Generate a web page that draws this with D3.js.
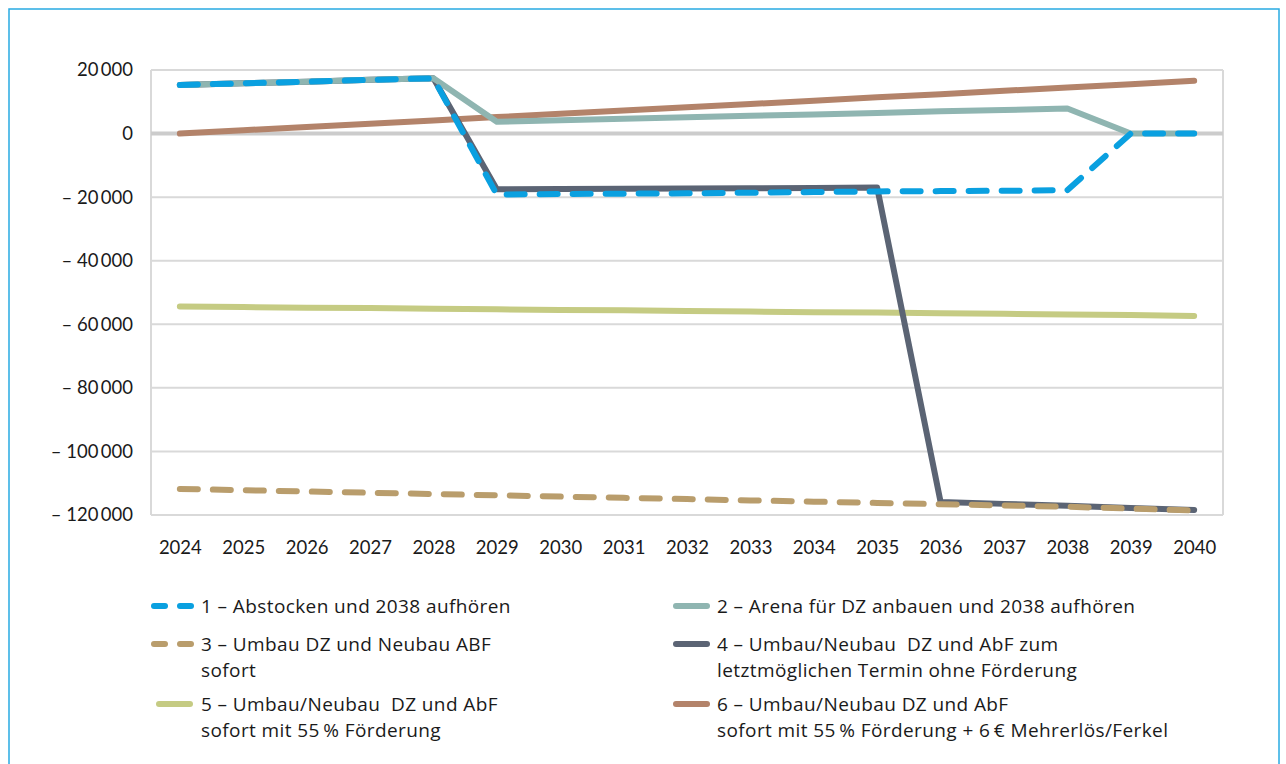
<!DOCTYPE html>
<html><head><meta charset="utf-8">
<script src="https://cdn.jsdelivr.net/npm/d3@7"></script>
<style>
html,body{margin:0;padding:0;background:#fff;}
svg{display:block;font-family:Lato,"Open Sans",sans-serif;}
text{white-space:pre;}
</style></head>
<body>
<svg id="chart" width="1286" height="764"></svg>
<script>
const years = ["2024","2025","2026","2027","2028","2029","2030","2031","2032","2033","2034","2035","2036","2037","2038","2039","2040"];
const yTicks = [20000, 0, -20000, -40000, -60000, -80000, -100000, -120000];

const s1 = [15300, 15800, 16300, 16900, 17400, -19200, -19000, -18900, -18800, -18600, -18400, -18200, -18100, -18000, -17800, 0, 0];
const s2 = [15300, 15800, 16300, 16900, 17400, 3700, 4200, 4700, 5100, 5600, 6000, 6500, 7000, 7400, 7900, 0, 0];
const s3 = [-111800, -112200, -112600, -113000, -113400, -113800, -114200, -114600, -115000, -115400, -115800, -116200, -116600, -117000, -117400, -118000, -118600];
const s4 = [15300, 15800, 16300, 16900, 17400, -17500, -17400, -17350, -17300, -17200, -17100, -17000, -115900, -116500, -117100, -117800, -118400];
const s5 = [-54400, -54600, -54800, -54900, -55100, -55300, -55500, -55600, -55800, -56000, -56200, -56300, -56500, -56700, -56900, -57100, -57400];
const s6 = [0, 1050, 2100, 3100, 4150, 5200, 6200, 7250, 8300, 9300, 10350, 11400, 12400, 13450, 14500, 15500, 16600];

const names = [
  ["1 – Abstocken und 2038 aufhören"],
  ["2 – Arena für DZ anbauen und 2038 aufhören"],
  ["3 – Umbau DZ und Neubau ABF", "sofort"],
  ["4 – Umbau/Neubau  DZ und AbF zum", "letztmöglichen Termin ohne Förderung"],
  ["5 – Umbau/Neubau  DZ und AbF", "sofort mit 55\u2009% Förderung"],
  ["6 – Umbau/Neubau DZ und AbF", "sofort mit 55\u2009% Förderung + 6\u2009€ Mehrerlös/Ferkel"]
];
const colors = ["#0aa0e0", "#8fb5b1", "#b99d6c", "#5b6474", "#c5cb83", "#b3836a"];
const dashed = [true, false, true, false, false, false];
const seriesData = [s1, s2, s3, s4, s5, s6];

const svg = d3.select("#chart");
const L = 151, R = 1223, T = 70, B = 515;

svg.append("rect").attr("x", 9).attr("y", 9).attr("width", 1270).attr("height", 800)
  .attr("fill", "none").attr("stroke", "#29abe2").attr("stroke-width", 1.5);

const x = d3.scalePoint().domain(years).range([L, R]).padding(0.455);
const y = d3.scaleLinear().domain([-120000, 20000]).range([B, T]);

const fmt = v => {
  const s = d3.format(",")(Math.abs(v)).replace(/,/g, "\u2009");
  return v < 0 ? "– " + s : s;
};

const g = svg.append("g");
g.selectAll("line.grid").data(yTicks.filter(d => d !== 0)).join("line")
  .attr("x1", L).attr("x2", R).attr("y1", d => y(d)).attr("y2", d => y(d))
  .attr("stroke", "#d9d9d9").attr("stroke-width", 2);
g.append("line").attr("x1", L).attr("x2", L).attr("y1", T).attr("y2", B).attr("stroke", "#d9d9d9").attr("stroke-width", 2);
g.append("line").attr("x1", R).attr("x2", R).attr("y1", T).attr("y2", B).attr("stroke", "#d9d9d9").attr("stroke-width", 2);
g.append("line").attr("x1", L).attr("x2", R).attr("y1", y(0)).attr("y2", y(0)).attr("stroke", "#cccccc").attr("stroke-width", 4);

const yAxis = d3.axisLeft(y).tickValues(yTicks).tickFormat(fmt).tickSize(0).tickPadding(18);
const ya = svg.append("g").attr("transform", `translate(${L},0)`).call(yAxis);
ya.select(".domain").remove();
ya.selectAll("text").attr("font-size", 18.5).attr("fill", "#1a1a1a").attr("font-family", "Lato, sans-serif");

const xAxis = d3.axisBottom(x).tickSize(0).tickPadding(26);
const xa = svg.append("g").attr("transform", `translate(0,${B})`).call(xAxis);
xa.select(".domain").remove();
xa.selectAll("text").attr("font-size", 18.5).attr("fill", "#1a1a1a").attr("font-family", "Lato, sans-serif");

const line = d3.line().x((d, i) => x(years[i])).y(d => y(d));
const order = [5, 4, 3, 2, 1, 0];
order.forEach(k => {
  svg.append("path").datum(seriesData[k]).attr("d", line)
    .attr("fill", "none").attr("stroke", colors[k]).attr("stroke-width", 6)
    .attr("stroke-linejoin", "round").attr("stroke-linecap", "round")
    .attr("stroke-dasharray", dashed[k] ? "18,15" : null);
});

const legPos = [
  {sx: 151, tx: 201, y: 606},
  {sx: 668, tx: 717, y: 606},
  {sx: 151, tx: 201, y: 644},
  {sx: 668, tx: 717, y: 644},
  {sx: 151, tx: 201, y: 704},
  {sx: 668, tx: 717, y: 704}
];
names.forEach((nm, k) => {
  const p = legPos[k];
  const lg = svg.append("g");
  if (dashed[k]) {
    lg.append("line").attr("x1", p.sx + 3).attr("x2", p.sx + 14).attr("y1", p.y).attr("y2", p.y)
      .attr("stroke", colors[k]).attr("stroke-width", 6).attr("stroke-linecap", "round");
    lg.append("line").attr("x1", p.sx + 29).attr("x2", p.sx + 40).attr("y1", p.y).attr("y2", p.y)
      .attr("stroke", colors[k]).attr("stroke-width", 6).attr("stroke-linecap", "round");
  } else {
    lg.append("line").attr("x1", p.sx + 8).attr("x2", p.sx + 39).attr("y1", p.y).attr("y2", p.y)
      .attr("stroke", colors[k]).attr("stroke-width", 6).attr("stroke-linecap", "round");
  }
  nm.forEach((t, j) => {
    lg.append("text").attr("x", p.tx).attr("y", p.y + j * 26).attr("dy", "0.35em")
      .attr("font-size", 19).attr("letter-spacing", 0.4).attr("font-family", "'Open Sans', sans-serif")
      .attr("fill", "#1a1a1a").text(t);
  });
});
</script>
</body></html>
